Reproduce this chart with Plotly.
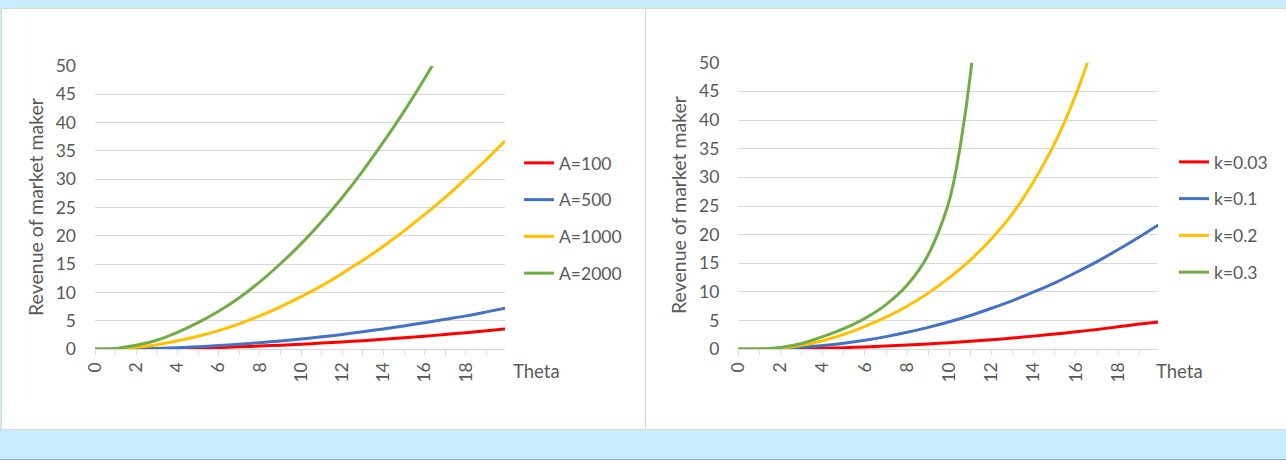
import plotly.graph_objects as go

W, H = 1286, 460

# ---------------- data ----------------
theta = [0, 1, 2, 3, 4, 5, 6, 7, 8, 9, 10, 11, 12, 13, 14, 15, 16, 17, 18, 19, 19.9]

left_names = ["A=100", "A=500", "A=1000", "A=2000"]
a100 = [0, 0.01, 0.04, 0.08, 0.14, 0.23, 0.33, 0.44, 0.58, 0.73, 0.90, 1.09, 1.30, 1.53, 1.77, 2.03, 2.31, 2.61, 2.93, 3.26, 3.58]
a500 = [0, 0.02, 0.07, 0.16, 0.29, 0.46, 0.66, 0.90, 1.17, 1.48, 1.83, 2.20, 2.63, 3.10, 3.60, 4.10, 4.70, 5.30, 5.90, 6.60, 7.25]
a1000 = [0, 0.07, 0.35, 0.80, 1.50, 2.30, 3.30, 4.50, 5.90, 7.50, 9.30, 11.2, 13.4, 15.7, 18.2, 20.9, 23.8, 26.8, 30.1, 33.5, 36.8]
a2000 = [0, 0.15, 0.70, 1.60, 3.00, 4.70, 6.70, 9.10, 11.9, 15.1, 18.6, 22.5, 26.8, 31.5, 36.6, 42.0, 47.8, 54.0, 60.4, 67.2, 73.8]

right_names = ["k=0.03", "k=0.1", "k=0.2", "k=0.3"]
k003 = [0, 0.01, 0.05, 0.10, 0.18, 0.29, 0.41, 0.56, 0.74, 0.93, 1.15, 1.40, 1.67, 1.97, 2.30, 2.66, 3.05, 3.47, 3.92, 4.40, 4.75]
k01 = [0, 0.03, 0.14, 0.34, 0.65, 1.05, 1.57, 2.21, 2.96, 3.83, 4.80, 5.90, 7.16, 8.50, 10.0, 11.6, 13.4, 15.3, 17.4, 19.6, 21.7]
k02 = [0, 0.05, 0.20, 0.70, 1.50, 2.60, 4.00, 5.60, 7.50, 9.80, 12.5, 15.6, 19.3, 23.7, 29.3, 36.0, 44.5, 55.0, 67.0, 80.0, 93.0]
k03 = [0, 0.05, 0.30, 1.00, 2.20, 3.60, 5.40, 7.80, 11.2, 16.5, 26.0, 48.0, 100.0, 170.0, 250.0, 340.0, 440.0, 550.0, 670.0, 800.0, 920.0]

colors = ["#FF0000", "#4472C4", "#FFC000", "#70AD47"]
y_ticks = [0, 5, 10, 15, 20, 25, 30, 35, 40, 45, 50]
x_ticks = [0, 2, 4, 6, 8, 10, 12, 14, 16, 18]

TXT = "#595959"
GRID = "#D9D9D9"
FONT = "Lato"


def px(x):
    return x / W


def py(y):
    return 1 - y / H


fig = go.Figure()

for name, vals, c in zip(left_names, [a100, a500, a1000, a2000], colors):
    fig.add_trace(go.Scatter(x=theta, y=vals, name=name, mode="lines",
                             line=dict(color=c, width=3, shape="spline", smoothing=0.8),
                             xaxis="x", yaxis="y", legend="legend", legendgroup=name))
for name, vals, c in zip(right_names, [k003, k01, k02, k03], colors):
    fig.add_trace(go.Scatter(x=theta, y=vals, name=name, mode="lines",
                             line=dict(color=c, width=3, shape="spline", smoothing=0.8),
                             xaxis="x2", yaxis="y2", legend="legend2", legendgroup=name))

xcommon = dict(range=[0, 19.9], tickvals=x_ticks, tickangle=-90, ticks="outside", ticklen=5,
               tickcolor=GRID, showline=True, linecolor=GRID, linewidth=1, showgrid=False,
               zeroline=False, automargin=False, tickfont=dict(family=FONT, size=17.5, color=TXT),
               minor=dict(dtick=1, tick0=0, ticks="outside", ticklen=5, tickcolor=GRID, showgrid=False))
ycommon = dict(range=[0, 50], tickvals=y_ticks, showgrid=True, gridcolor=GRID, gridwidth=1,
               zeroline=False, showline=False, ticks="", ticklabelstandoff=18, automargin=False,
               tickfont=dict(family=FONT, size=17.5, color=TXT))

legcommon = dict(font=dict(family=FONT, size=17.5, color=TXT), bgcolor="rgba(0,0,0,0)",
                 tracegroupgap=11, itemwidth=30, xanchor="left", yanchor="top")

fig.update_layout(
    width=W, height=H,
    autosize=False,
    margin=dict(l=0, r=0, t=0, b=0, pad=0, autoexpand=False),
    paper_bgcolor="#C6ECFD",
    plot_bgcolor="rgba(0,0,0,0)",
    hovermode=False,
    xaxis=dict(domain=[px(95), px(505)], anchor="y", **xcommon),
    yaxis=dict(domain=[py(349.3), py(66)], anchor="x", **ycommon),
    xaxis2=dict(domain=[px(738.3), px(1158.3)], anchor="y2", **xcommon),
    yaxis2=dict(domain=[py(349.3), py(62.7)], anchor="x2", **ycommon),
    legend=dict(x=px(519), y=py(145), **legcommon),
    legend2=dict(x=px(1174), y=py(144), **legcommon),
    showlegend=True,
    shapes=[
        dict(type="rect", xref="paper", yref="paper", x0=px(1.5), x1=px(645.5), y0=py(429.5), y1=py(8.5),
             fillcolor="white", line=dict(color=GRID, width=1), layer="below"),
        dict(type="rect", xref="paper", yref="paper", x0=px(645.5), x1=px(1286.5), y0=py(429.5), y1=py(8.5),
             fillcolor="white", line=dict(color=GRID, width=1), layer="below"),
        dict(type="line", xref="paper", yref="paper", x0=0, x1=1, y0=py(459.5), y1=py(459.5),
             line=dict(color="#8FAFC2", width=1)),
    ],
    annotations=[
        dict(text="Revenue of market maker", x=px(36), y=py(207), xref="paper", yref="paper",
             xanchor="center", yanchor="middle",
             textangle=-90, showarrow=False, font=dict(family=FONT, size=19.5, color=TXT)),
        dict(text="Revenue of market maker", x=px(678), y=py(205), xref="paper", yref="paper",
             xanchor="center", yanchor="middle",
             textangle=-90, showarrow=False, font=dict(family=FONT, size=19.5, color=TXT)),
        dict(text="Theta", x=px(511), y=py(371), xref="paper", yref="paper", xanchor="left",
             yanchor="middle", showarrow=False, font=dict(family=FONT, size=18.5, color=TXT)),
        dict(text="Theta", x=px(1154), y=py(371), xref="paper", yref="paper", xanchor="left",
             yanchor="middle", showarrow=False, font=dict(family=FONT, size=18.5, color=TXT)),
    ],
)

fig.write_html("out.html",
               config={"displayModeBar": False, "staticPlot": True},
               post_script="document.body.style.margin='0';document.body.style.padding='0';"
                           "document.body.style.background='#C6ECFD';")
